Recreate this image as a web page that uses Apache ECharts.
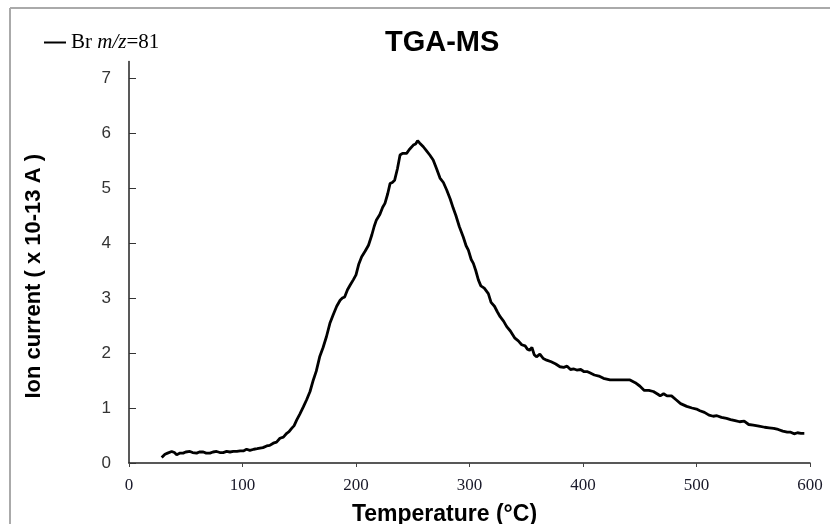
<!DOCTYPE html>
<html>
<head>
<meta charset="utf-8">
<script src="https://cdn.jsdelivr.net/npm/echarts@6/dist/echarts.min.js"></script>
<style>html,body{margin:0;padding:0;background:#fff}#c{width:830px;height:524px}</style>
</head>
<body>
<div id="c"></div>
<script>
const seriesName = 'Br m/z=81';
const xTicks = [0, 100, 200, 300, 400, 500, 600];
const yTicks = [0, 1, 2, 3, 4, 5, 6, 7];
const temperature = [
28.8,31.7,34,37.6,40,42,45,47.7,50,53.7,56,59.6,62,65.5,68,71.3,74,77.2,80,83,86,89,91.9,95,98,100.7,103.6,106.5,110,113,115.4,118,121.3,124,127.1,130,133,136,139,141,143.3,145.5,147.7,150.5,153.6,156.5,159.5,162.4,165,168,171,174,177,180,183,186,188,190,192.5,195,197.6,200,202.5,205,208,211,214,216,218,221,223.5,225.5,228,230,232,234,236.5,238.8,241,244.6,247,250.5,252.5,254.3,256,259.3,262,265,268,271,274,277,280,283,285.7,288,291,294.5,297,299,301.5,303.4,305.5,307.8,310,313,316.6,319,322,324.5,327,330,332.8,336,340,343,346,349,351,353,355,357,359,362,365,368,372,376,379.7,383,386,389,392,394.5,398,401,404,406,410,414,418,423.8,430,436,441.4,446,450,454,458,462,466,468,471,474,478,482,486,491.4,496,500,503,507,511,514.8,518,522,526.5,530,534,538,542,546,550,555,560,564,568,572,576,580,583,586,589,592,595
];
const ionCurrent = [
0.10,0.16,0.18,0.21,0.19,0.15,0.18,0.18,0.20,0.21,0.19,0.18,0.20,0.20,0.18,0.18,0.20,0.21,0.19,0.19,0.21,0.20,0.21,0.21,0.22,0.22,0.25,0.23,0.25,0.26,0.27,0.28,0.31,0.32,0.36,0.38,0.45,0.47,0.54,0.57,0.63,0.68,0.78,0.89,1.02,1.15,1.30,1.51,1.67,1.93,2.10,2.30,2.54,2.70,2.85,2.96,3.00,3.02,3.15,3.24,3.33,3.42,3.62,3.75,3.85,3.96,4.15,4.30,4.42,4.52,4.65,4.72,4.90,5.08,5.10,5.14,5.35,5.60,5.63,5.63,5.70,5.78,5.80,5.86,5.82,5.75,5.68,5.60,5.51,5.35,5.18,5.10,4.96,4.80,4.63,4.50,4.30,4.11,3.95,3.87,3.70,3.63,3.50,3.33,3.22,3.18,3.08,2.92,2.85,2.75,2.66,2.58,2.48,2.40,2.27,2.22,2.15,2.13,2.07,2.05,2.10,1.97,1.93,1.98,1.90,1.87,1.84,1.80,1.75,1.74,1.76,1.70,1.71,1.69,1.70,1.66,1.66,1.64,1.60,1.58,1.54,1.51,1.51,1.51,1.51,1.46,1.40,1.32,1.32,1.30,1.25,1.22,1.26,1.22,1.22,1.15,1.08,1.03,1.00,0.98,0.95,0.92,0.87,0.85,0.86,0.83,0.81,0.79,0.77,0.75,0.76,0.70,0.69,0.67,0.65,0.64,0.63,0.61,0.58,0.56,0.56,0.53,0.55,0.54,0.54
];

const data = temperature.map((t, i) => [t, ionCurrent[i]]);
const chart = echarts.init(document.getElementById('c'), null, {renderer: 'canvas'});
chart.setOption({
  animation: false,
  backgroundColor: '#fff',
  title: {
    text: 'TGA-MS', left: 380, top: 23,
    textStyle: {fontFamily: 'Liberation Sans, Arial, sans-serif', fontWeight: 'bold', fontSize: 29, color: '#000'}
  },
  legend: {
    left: 39, top: 27, itemWidth: 22, itemHeight: 2, itemGap: 4,
    icon: 'rect',
    data: [seriesName],
    formatter: () => '{a|Br }{b|m/z}{a|=81}',
    textStyle: {
      rich: {
        a: {fontFamily: 'Liberation Serif, Times New Roman, serif', fontSize: 21, color: '#000'},
        b: {fontFamily: 'Liberation Serif, Times New Roman, serif', fontSize: 21, fontStyle: 'italic', color: '#000'}
      }
    }
  },
  grid: {left: 129, right: 20, top: 61.5, bottom: 61, outerBoundsMode: 'none'},
  xAxis: {
    type: 'value', min: 0, max: 600, interval: 100,
    name: 'Temperature (°C)', nameLocation: 'middle', nameGap: 40,
    nameTextStyle: {fontFamily: 'Liberation Sans, Arial, sans-serif', fontWeight: 'bold', fontSize: 23, color: '#000', padding: [0, 50, 0, 0]},
    axisLine: {show: true, lineStyle: {color: '#222', width: 1.5}},
    axisTick: {show: true, inside: false, length: 4, lineStyle: {color: '#444'}, customValues: xTicks},
    axisLabel: {customValues: xTicks, margin: 14, fontFamily: 'Liberation Serif, Times New Roman, serif', fontSize: 17, color: '#1a1a2a'},
    splitLine: {show: false}
  },
  yAxis: {
    type: 'value', min: 0, max: 7.3,
    name: 'Ion current ( x 10-13 A )', nameLocation: 'middle', nameGap: 84,
    nameTextStyle: {fontFamily: 'Liberation Sans, Arial, sans-serif', fontWeight: 'bold', fontSize: 22, color: '#000', padding: [0, 28, 0, 0]},
    axisLine: {show: true, lineStyle: {color: '#222', width: 1.5}},
    axisTick: {show: true, inside: true, length: 7, lineStyle: {color: '#333'}, customValues: yTicks},
    axisLabel: {customValues: yTicks, margin: 18, fontFamily: 'Liberation Sans, Arial, sans-serif', fontSize: 17, color: '#333'},
    splitLine: {show: false}
  },
  graphic: [
    {type: 'line', shape: {x1: 10, y1: 8, x2: 830, y2: 8}, style: {stroke: '#aaa', lineWidth: 2}},
    {type: 'line', shape: {x1: 10, y1: 8, x2: 10, y2: 524}, style: {stroke: '#aaa', lineWidth: 2}}
  ],
  series: [{
    name: seriesName, type: 'line', data: data,
    showSymbol: false, symbol: 'none',
    lineStyle: {color: '#000', width: 2.8},
    itemStyle: {color: '#000'}
  }]
});
</script>
</body>
</html>
